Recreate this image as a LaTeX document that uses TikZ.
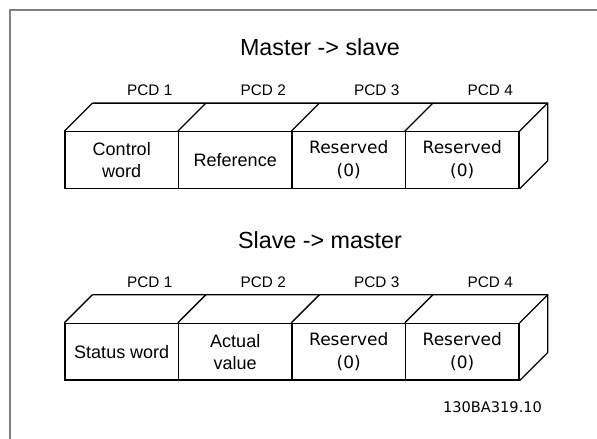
\documentclass[tikz,border=0pt]{standalone}
\usepackage{fontspec}
\setmainfont{Liberation Sans}
\newfontfamily\wide{DejaVu Sans}
\usetikzlibrary{calc}

\begin{document}
\begin{tikzpicture}[x=1pt,y=-1pt,line width=1.3pt,
  field/.style={draw,minimum width=113.5pt,minimum height=56.5pt,inner sep=0pt,align=center,font=\fontsize{18}{22}\selectfont},
  wfield/.style={field,font=\wide\fontsize{17}{23}\selectfont},
  pcd/.style={font=\fontsize{15.3}{18}\selectfont},
  heading/.style={font=\fontsize{23.3}{28}\selectfont}]
\useasboundingbox (0,0) rectangle (597,439);

% frame
\draw[gray,line width=2pt] (9.5,439) -- (9.5,9.5) -- (597,9.5);

% master -> slave
\node[heading] (mtitle) at (320,47) {Master -> slave};
\node[field] (m1) at (121.75,160) {Control\\word};
\node[field] (m2) at (235.25,160) {Reference};
\node[wfield] (m3) at (348.75,160) {Reserved\\(0)};
\node[wfield] (m4) at (462.25,160) {Reserved\\(0)};

\draw ($(m1.north west)+(28,-28)$) -- ($(m4.north east)+(28,-28)$)
    -- ($(m4.south east)+(28,-28)$) -- (m4.south east);
\foreach \f in {m1,m2,m3,m4}
  \draw (\f.north west) -- ++(28,-28);
\draw (m4.north east) -- ++(28,-28);

\foreach \f/\n in {m1/1,m2/2,m3/3,m4/4}
  \node[pcd] (pcd\f) at ($(\f.north)+(28,-41)$) {PCD \n};

% slave -> master
\node[heading] (stitle) at (320,240) {Slave -> master};
\node[field] (s1) at (121.75,351.7) {Status word};
\node[field] (s2) at (235.25,351.7) {Actual\\value};
\node[wfield] (s3) at (348.75,351.7) {Reserved\\(0)};
\node[wfield] (s4) at (462.25,351.7) {Reserved\\(0)};

\draw ($(s1.north west)+(28,-28)$) -- ($(s4.north east)+(28,-28)$)
    -- ($(s4.south east)+(28,-28)$) -- (s4.south east);
\foreach \f in {s1,s2,s3,s4}
  \draw (\f.north west) -- ++(28,-28);
\draw (s4.north east) -- ++(28,-28);

\foreach \f/\n in {s1/1,s2/2,s3/3,s4/4}
  \node[pcd] (pcd\f) at ($(\f.north)+(28,-41)$) {PCD \n};

\node[anchor=east,font=\wide\fontsize{14.6}{18}\selectfont] (code) at (546,407) {130BA319.10};
\end{tikzpicture}
\end{document}
